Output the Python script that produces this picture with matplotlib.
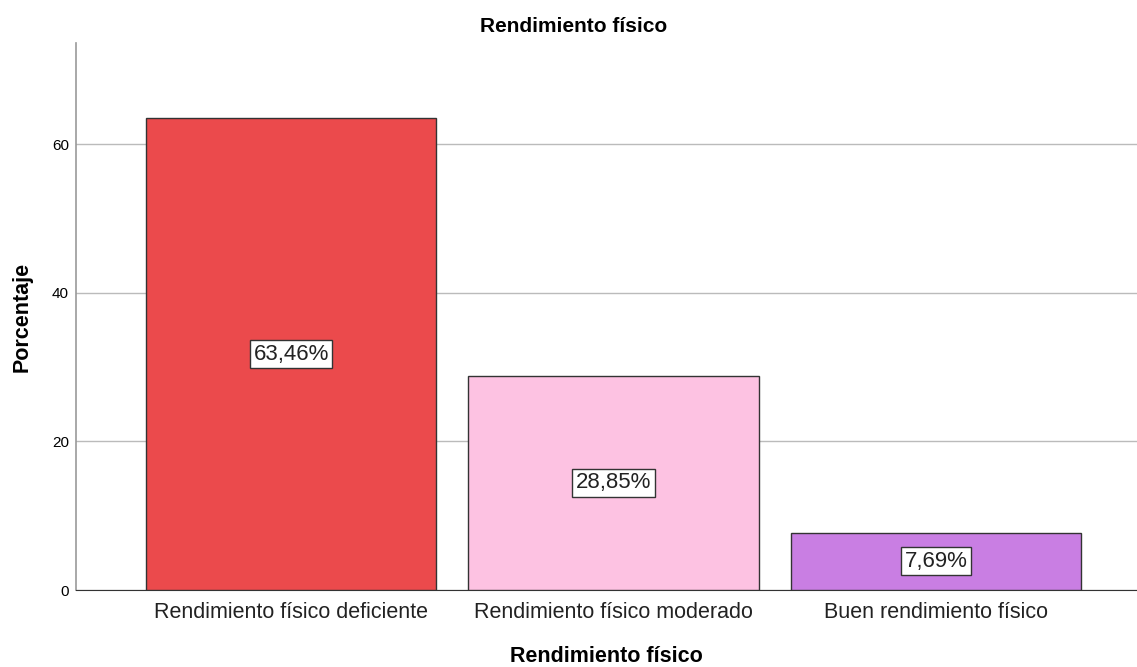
import matplotlib
matplotlib.use("Agg")
import matplotlib.pyplot as plt

categorias = ["Rendimiento físico deficiente", "Rendimiento físico moderado", "Buen rendimiento físico"]
porcentajes = [63.46, 28.85, 7.69]
etiquetas = ["63,46%", "28,85%", "7,69%"]
colores = ["#EB4A4C", "#FDC2E2", "#C97EE3"]

plt.rcParams['font.family'] = ['Liberation Sans', 'DejaVu Sans']

fig = plt.figure(figsize=(11.37, 6.67), dpi=100)
ax = fig.add_axes([76/1137, 1 - 590/667, 1 - 76/1137, (590 - 43)/667])

pos = list(range(len(categorias)))
ax.bar(pos, porcentajes, width=0.9, color=colores, edgecolor="#333333", linewidth=1, zorder=3)

for x, v, t in zip(pos, porcentajes, etiquetas):
    ax.text(x, v / 2, t, ha="center", va="center", fontsize=16, color="#222222", zorder=4,
            bbox=dict(boxstyle="square,pad=0.16", facecolor="white", edgecolor="#333333", linewidth=1))

ax.set_xlim(-0.667, 2.623)
ax.set_ylim(0, 73.6)
ax.set_yticks([0, 20, 40, 60])
ax.set_xticks(pos)
ax.set_xticklabels(categorias, fontsize=15.5, color="#222222")
ax.tick_params(axis="y", labelsize=11, length=0, pad=5)
ax.tick_params(axis="x", length=0, pad=9)
ax.yaxis.grid(True, color="#BBBBBB", linewidth=1, zorder=0)
for s in ["top", "right"]:
    ax.spines[s].set_visible(False)
ax.spines["left"].set_color("#999999")
ax.spines["left"].set_linewidth(1.2)
ax.spines["bottom"].set_color("#333333")

ax.set_ylabel("Porcentaje", fontsize=15.5, fontweight="bold")
ax.yaxis.set_label_coords(-54/1061, 0.5)
ax.set_xlabel("Rendimiento físico", fontsize=15.5, fontweight="bold")
ax.xaxis.set_label_coords(0.5, -67/547, transform=ax.transAxes)
ax.xaxis.label.set_va("center")
ax.yaxis.label.set_va("center")
fig.text(574/1137, 1 - 27/667, "Rendimiento físico", ha="center", va="center", fontsize=15, fontweight="bold")

fig.savefig("out.png", dpi=100)
